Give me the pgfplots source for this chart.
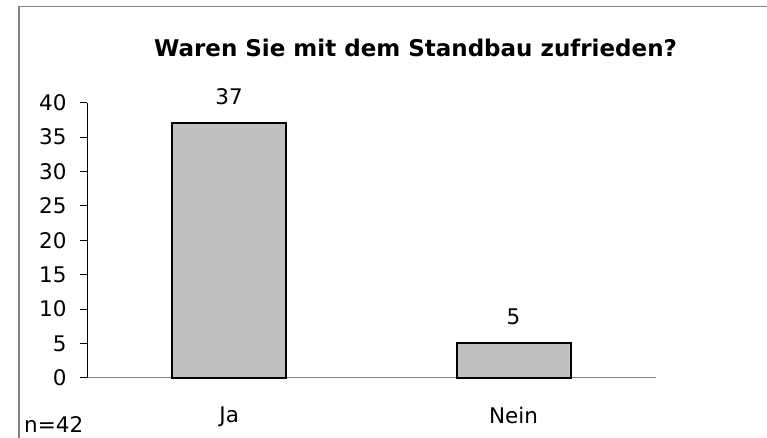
\documentclass[border=0pt]{standalone}
\usepackage{pgfplots}
\pgfplotsset{compat=1.18}
\usepackage{fontspec}
\setmainfont{DejaVu Sans}
\definecolor{barfill}{HTML}{C0C0C0}
\definecolor{framegray}{HTML}{808080}
\begin{document}
\begin{tikzpicture}
\useasboundingbox (0,0) rectangle (767bp,438bp);
\clip (0,0) rectangle (767bp,438bp);
\fill[white] (0,0) rectangle (767bp,438bp);
\draw[framegray, line width=1.7bp] (19bp,-10bp) -- (19bp,431.5bp) -- (800bp,431.5bp);
\begin{axis}[
  at={(87bp,60.3bp)}, anchor=south west,
  scale only axis,
  width=568.7bp, height=275bp,
  xmin=-0.5, xmax=1.5, ymin=0, ymax=40,
  axis lines*=left,
  axis line style={-, line width=0.8bp},
  x axis line style={framegray, line width=1.2bp},
  y axis line style={black},
  ytick={0,5,...,40},
  xtick={0,1}, xticklabels={Ja,Nein},
  minor xtick={-0.5,0.5,1.5},
  tick align=outside,
  major tick length=7bp, minor tick length=7bp,
  xtick style={draw=none},
  minor x tick style={black, line width=0.8bp},
  ytick style={black, line width=0.8bp},
  /pgf/number format/assume math mode=true,
  tick label style={font=\fontsize{21.5bp}{25bp}\selectfont},
  yticklabel style={xshift=-10bp},
  xticklabel style={yshift=-19bp},
  ybar, bar width=114bp,
  nodes near coords,
  every node near coord/.append style={font=\fontsize{21.5bp}{25bp}\selectfont, anchor=south, inner sep=0pt, yshift=18bp},
  clip=false,
]
\addplot[fill=barfill, draw=black, line width=2bp] coordinates {(0,37) (1,5)};
\end{axis}
\node[font=\fontsize{23bp}{27bp}\selectfont\bfseries, inner sep=0pt] at (415.5bp,390bp) {Waren Sie mit dem Standbau zufrieden?};
\node[font=\fontsize{21.5bp}{25bp}\selectfont, anchor=base west, inner sep=0pt] at (24bp,5.5bp) {n=42};
\end{tikzpicture}
\end{document}
